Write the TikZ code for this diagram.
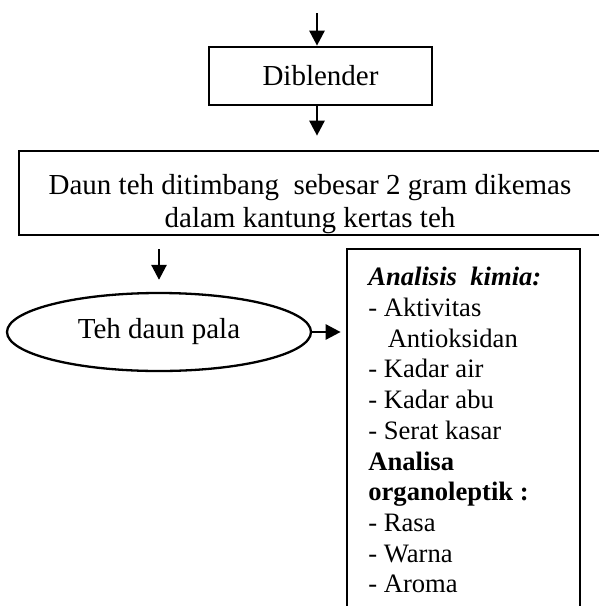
\documentclass[tikz,border=0pt]{standalone}
\usepackage{fontspec}
\setmainfont{Liberation Serif}
\usetikzlibrary{arrows.meta, positioning, shapes.geometric}
\tikzset{
  every picture/.style={line width=2.7pt},
  box/.style={draw, rectangle, align=center, inner sep=0pt},
  arrow/.style={-{Triangle[length=15pt, width=15pt]}, line width=2.7pt},
  big/.style={font=\fontsize{29}{33.4}\selectfont},
  small/.style={font=\fontsize{26.6}{30.7}\selectfont},
}

\begin{document}
\begin{tikzpicture}[x=1pt, y=-1pt,
  oval/.style={ellipse, draw, big, line width=2.3pt, minimum width=304pt, minimum height=78pt, inner sep=0pt},
  list/.style={small, align=left, anchor=north west, inner sep=0pt}]
  \useasboundingbox (0,0) rectangle (599,606);
  \coordinate (in) at (317,13);
  \node[box, big, minimum width=223pt, minimum height=58pt] (blend) at (320.5,76) {Diblender};
  \node[box, minimum width=584pt, minimum height=84pt] (weigh) at (311,193) {};
  % text is cut by the lower edge, as in the original
  \begin{scope}
    \clip (weigh.north west) rectangle (weigh.south east);
    \node[big, align=center] (weightxt) at (310,204) {Daun teh ditimbang\ \ sebesar 2 gram dikemas\\dalam kantung kertas teh};
  \end{scope}
  \node[oval] (tea) at (159,332) {Teh daun pala};
  \node[box, minimum width=233pt, minimum height=400pt] (anal) at (463.5,449) {};
  \node[list] (items) at (367,266) {\textbf{\textit{Analisis\ \ kimia:}}\\
    - Aktivitas\\
    \hspace*{0.73em}Antioksidan\\
    - Kadar air\\
    - Kadar abu\\
    - Serat kasar\\
    \textbf{Analisa}\\
    \textbf{organoleptik :}\\
    - Rasa\\
    - Warna\\
    - Aroma};
  \draw[arrow] (in) -- (in |- blend.north);
  \draw[arrow, shorten >=14pt] (in |- blend.south) -- (in |- weigh.north);
  \draw[arrow, shorten <=13pt, shorten >=12pt] (weigh.south -| tea.north) -- (tea.north);
  \draw[arrow, shorten >=5pt] (tea.east) -- (tea.east -| anal.west);
\end{tikzpicture}
\end{document}
